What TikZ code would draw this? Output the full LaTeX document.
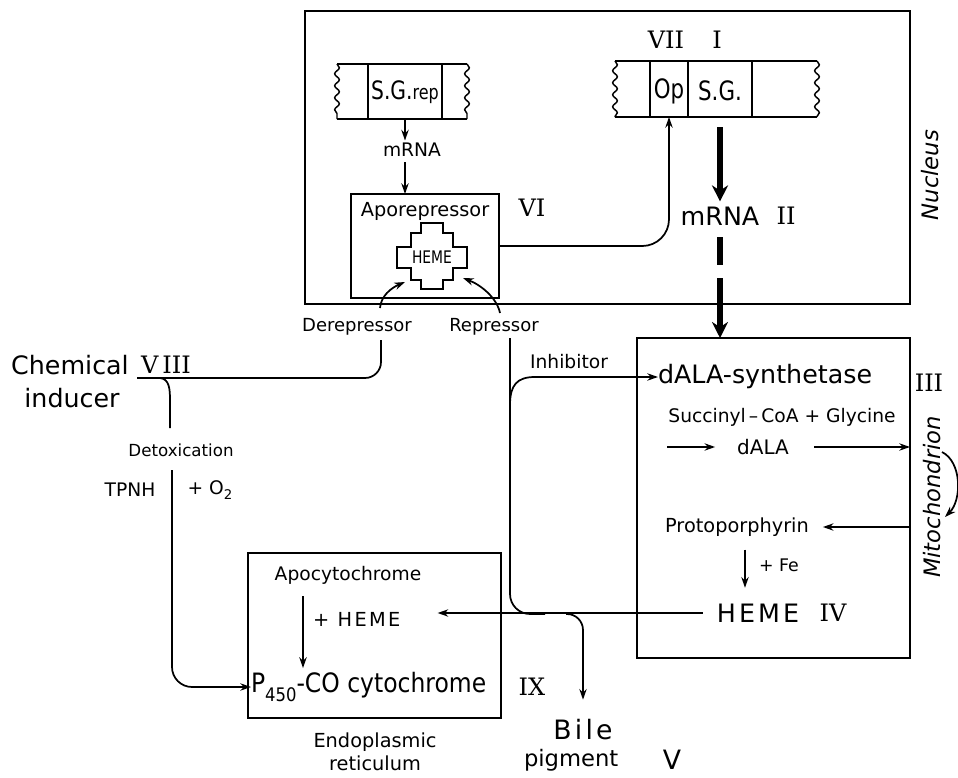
\documentclass[tikz,border=0pt]{standalone}
\usepackage{fontspec}
\usepackage{graphicx}
\newfontfamily\dv{DejaVu Sans}
\newfontfamily\dvsp[LetterSpace=12]{DejaVu Sans}
\newfontfamily\dvserif{DejaVu Serif}
\usetikzlibrary{arrows.meta,decorations.pathmorphing,fit}
\newcommand\fsz[1]{\dv\fontsize{#1}{#1}\selectfont}
\newcommand\fsp[1]{\dvsp\fontsize{#1}{#1}\selectfont}
\newcommand\rnum{\dvserif\fontsize{18}{18}\selectfont}
\newcommand\cnd[1]{\scalebox{0.8}[1]{#1}}
\begin{document}
\begin{tikzpicture}[x=0.75pt,y=-0.75pt,
  boxst/.style={draw,line width=1.1pt,inner sep=0pt,outer sep=0pt},
  ln/.style={line width=1.3pt},
  arr/.style={ln,-{Stealth[length=8pt,width=5.5pt]}},
  thk/.style={line width=4pt},
  thkarr/.style={thk,-{Stealth[length=12pt,width=12pt]}},
  txt/.style={inner sep=0pt,outer sep=0pt},
  wavy/.style={line width=1.1pt,decorate,decoration={snake,amplitude=1.8pt,segment length=9pt}}]
\fill[white] (0,0) rectangle (958,778);
\useasboundingbox (0,0) rectangle (958,778);

% ---------- boxes ----------
\node[boxst, fit={(305,11)(910,304)}] (nucleus) {};
\node[boxst, fit={(351,194)(499,298)}] (apo) {};
\node[boxst, fit={(637,338)(910,658)}] (mito) {};
\node[boxst, fit={(248,553)(501,718)}] (er) {};

% ---------- gene strips ----------
\draw[ln] (337,64) -- (467,64) (337,119) -- (467,119);
\draw[wavy] (337,64) -- (337,119);
\draw[wavy] (467,64) -- (467,119);
\node[boxst, fit={(368,64)(442,119)}] (sgrepcell) {};
\node[txt, font={\fsz{19}}] (sgrep) at (405,92) {\cnd{S.G.{\fontsize{15}{15}\selectfont rep}}};

\draw[ln] (615,61) -- (817,61) (615,117) -- (817,117);
\draw[wavy] (615,61) -- (615,117);
\draw[wavy] (817,61) -- (817,117);
\node[boxst, fit={(650,61)(688,117)}] (opcell) {};
\node[boxst, fit={(688,61)(752,117)}] (sgcell) {};
\node[txt, font={\fsz{20}}] (op) at (669,91) {\cnd{Op}};
\node[txt, font={\fsz{20}}] (sg) at (720,91) {\cnd{S.G.}};
\node[txt, font=\rnum] (vii) at (666,40) {VII};
\node[txt, font=\rnum] (one) at (717,40) {I};

% ---------- nucleus texts ----------
\node[txt, font={\fsz{14}}] (mrna1) at (412,150) {mRNA};
\node[txt, font={\fsz{14.5}}] (apotxt) at (425,211) {Aporepressor};
\node[txt, font=\rnum] (vi) at (532,208) {VI};
\draw[line width=1.1pt] (421,223) -- (443,223) -- (443,233) -- (453,233) -- (453,247) -- (467,247)
  -- (467,268) -- (453,268) -- (453,280) -- (443,280) -- (443,289) -- (421,289) -- (421,280)
  -- (411,280) -- (411,268) -- (397,268) -- (397,247) -- (411,247) -- (411,233) -- (421,233) -- cycle;
\node[txt, font={\fsz{13}}] (hemeX) at (432,257) {\cnd{HEME}};
\node[txt, font={\fsz{19}}] (mrna2) at (720,216) {mRNA};
\node[txt, font=\rnum] (two) at (786,216) {II};
\node[txt, font={\dv\itshape\fontsize{17}{17}\selectfont}, rotate=90] (nuctxt) at (930,175) {Nucleus};

% ---------- left side ----------
\node[txt, font={\fsz{13.5}}] (derep) at (357,327) {Derepressor};
\node[txt, font={\fsz{13.5}}] (rep) at (494,327) {Repressor};
\node[txt, font={\fsz{14}}] (inh) at (569,362) {Inhibitor};
\node[txt, font={\fsz{19}}] (chem) at (70,365) {Chemical};
\node[txt, font=\rnum] (viii) at (166,365) {V\,III};
\node[txt, font={\fsz{19}}] (ind) at (72,398) {inducer};
\node[txt, font={\fsz{12.5}}] (detox) at (181,450) {Detoxication};
\node[txt, font={\fsz{14}}] (tpnh) at (130,490) {TPNH};
\node[txt, font={\fsz{14}}] (o2) at (210,490) {+ O\raisebox{-0.3em}{\fontsize{10}{10}\selectfont 2}};

% ---------- mitochondrion texts ----------
\node[txt, font={\fsz{19}}, anchor=west] (dala) at (658,377) {dALA-synthetase};
\node[txt, font=\rnum] (iii) at (929,383) {III};
\node[txt, font={\fsz{14}}] (succ) at (782,417) {Succinyl\,–\,CoA + Glycine};
\node[txt, font={\fsz{15}}] (dalas) at (763,447) {dALA};
\node[txt, font={\fsz{14.5}}] (proto) at (737,527) {Protoporphyrin};
\node[txt, font={\fsz{13}}] (fe) at (779,565) {+ Fe};
\node[txt, font={\fsp{19}}] (hemeiv) at (758,613) {HEME};
\node[txt, font=\rnum] (iv) at (833,613) {IV};
\node[txt, font={\dv\itshape\fontsize{17}{17}\selectfont}, rotate=90] (mitotxt) at (932,497) {Mitochondrion};

% ---------- ER texts ----------
\node[txt, font={\fsz{14}}] (apocyt) at (348,575) {Apocytochrome};
\node[txt, font={\fsp{14.5}}, anchor=west] (plusheme) at (313,619) {+ HEME};
\node[txt, font={\fsz{20}}, anchor=west] (p450) at (251,687)
  {\scalebox{0.88}[1]{P\raisebox{-0.35em}{\fontsize{14}{14}\selectfont 450}-CO cytochrome}};
\node[txt, font=\rnum] (ix) at (532,687) {IX};
\node[txt, font={\fsz{14.5}}] (endo) at (375,742) {Endoplasmic};
\node[txt, font={\fsz{14.5}}] (retic) at (375,763) {reticulum};
\node[txt, font={\fsp{20}}] (bile) at (583,730) {Bile};
\node[txt, font={\fsz{17}}, anchor=west] (pig) at (524,760) {pigment};
\node[txt, font={\fsz{20}}] (vv) at (672,760) {V};

% ---------- helper coordinates ----------
\coordinate (dtop) at (380,308);
\coordinate (hemeL) at (405,282);
\coordinate (rtop) at (500,313);
\coordinate (hemeR) at (463,278);
\coordinate (dbot) at (381,340);
\coordinate (chemend) at (137,378);
\coordinate (br1) at (160,378);
\coordinate (br2) at (170,428);
\coordinate (tx) at (172,470);
\coordinate (rbot) at (510,338);
\coordinate (rjoin) at (545,614);
\coordinate (ib) at (510,405);
\coordinate (bj) at (566,614);
\coordinate (d1) at (720,237);
\coordinate (d2) at (720,265);
\coordinate (d3) at (720,278);
\coordinate (mc1) at (942,452);
\coordinate (mc2) at (945,517);
\coordinate (ax) at (303,0);
\coordinate (fx) at (745,0);

% ---------- connectors ----------
\draw[arr, shorten >=2pt] (sgrepcell.south) -- (sgrepcell.south |- mrna1.north);
\draw[arr, shorten <=4pt] (sgrepcell.south |- mrna1.south) -- (sgrepcell.south |- apo.north);
\draw[arr, rounded corners=20pt] (apo.east) -| (opcell.south);
\draw[thkarr] ([yshift=-7.5pt]sgcell.south) -- ([yshift=4pt]mrna2.north);
\draw[thk] (d1) -- (d2);
\draw[thkarr] (d3) -- (d3 |- mito.north);

\draw[arr] (dtop) .. controls (381,296) and (391,288) .. (hemeL);
\draw[arr] (rtop) .. controls (497,298) and (481,285) .. (hemeR);
\draw[ln, rounded corners=12pt] (dbot) |- (chemend);
\draw[ln] (br1) .. controls (169,379) and (170,388) .. (170,400) -- (br2);
\draw[arr, rounded corners=15pt] (tx) |- (p450.west);

\draw[ln, rounded corners=15pt] (rbot) |- (rjoin);
\draw[arr] (ib) .. controls (510,385) and (517,377) .. (535,377) -- (dala.west);
\draw[arr, shorten <=10.5pt, shorten >=28pt] (hemeiv.west) -- (plusheme.east |- hemeiv.west);
\draw[arr, rounded corners=12pt, shorten >=15pt] (bj) -| (bile.north);

\draw[arr, shorten >=16.5pt] ([xshift=-52.5pt]dalas.west) -- (dalas.west);
\draw[arr, shorten <=19pt] (dalas.east) -- (mito.east |- dalas.east);
\draw[arr, shorten >=10.5pt] (mito.east |- proto.east) -- (proto.east);
\draw[arr] (mc1) .. controls (962,462) and (962,500) .. (mc2);
\draw[arr, shorten <=10pt, shorten >=12pt] (proto.south -| fx) -- (hemeiv.north -| fx);

\draw[arr, shorten <=9pt, shorten >=3pt] (apocyt.south -| ax) -- (p450.north -| ax);
\end{tikzpicture}
\end{document}
